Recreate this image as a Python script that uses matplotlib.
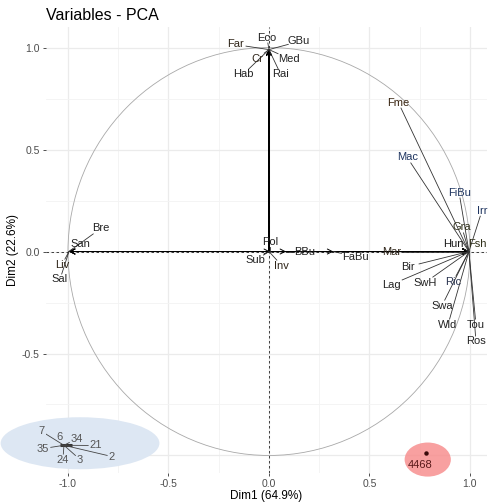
import numpy as np
import matplotlib.pyplot as plt
from matplotlib.patches import Circle, Ellipse

plt.rcParams['font.family'] = ['Liberation Sans', 'DejaVu Sans']

# variable arrows (tip coordinates) and repelled label positions
var_names = ['Far', 'Eco', 'GBu', 'Cr', 'Med', 'Hab', 'Rai',
             'Bre', 'San', 'Liv', 'Sal',
             'Fme', 'Mac', 'FiBu', 'Irr', 'Gra', 'Hun', 'Fsh', 'Mar', 'Bir',
             'Lag', 'SwH', 'Ric', 'Swa', 'Wld', 'Tou', 'Ros',
             'Pol', 'Sub', 'Inv', 'BBu', 'FaBu']
var_x = [0.0, 0.0, 0.0, 0.0, 0.0, 0.0, 0.0,
         -0.995, -0.995, -0.995, -0.995,
         0.995, 0.995, 0.995, 0.995, 0.995, 0.995, 0.995, 0.995, 0.995,
         0.995, 0.995, 0.995, 0.995, 0.995, 0.995, 0.995,
         0.005, 0.0, 0.0, 0.085, 0.32]
var_y = [0.99, 0.99, 0.99, 0.99, 0.99, 0.99, 0.99,
         0.0, 0.0, 0.0, 0.0,
         0.0, 0.0, 0.0, 0.0, 0.0, 0.0, 0.0, 0.0, 0.0,
         0.0, 0.0, 0.0, 0.0, 0.0, 0.0, 0.0,
         0.0, 0.0, 0.0, 0.0, 0.0]
lab_x = [-0.168, -0.01, 0.15, -0.06, 0.099, -0.129, 0.059,
         -0.837, -0.94, -1.03, -1.04,
         0.644, 0.688, 0.946, 1.06, 0.96, 0.916, 1.035, 0.609, 0.693,
         0.609, 0.777, 0.916, 0.861, 0.891, 1.03, 1.03,
         0.005, -0.069, 0.064, 0.178, 0.43]
lab_y = [1.015, 1.049, 1.03, 0.946, 0.946, 0.868, 0.868,
         0.113, 0.039, -0.064, -0.137,
         0.730, 0.461, 0.289, 0.20, 0.118, 0.039, 0.039, 0.0, -0.074,
         -0.162, -0.152, -0.147, -0.265, -0.358, -0.358, -0.441,
         0.049, -0.044, -0.069, 0.0, -0.025]
lab_col = ['#2e2418', '#222222', '#222222', '#2e2418', '#222222', '#222222', '#222222',
           '#222222', '#222222', '#2e2418', '#222222',
           '#3a2612', '#1f3560', '#1f3560', '#1f3560', '#30301a', '#1a1a1a', '#30301a', '#2e2418', '#222222',
           '#222222', '#222222', '#2b3550', '#222222', '#222222', '#222222', '#222222',
           '#222222', '#222222', '#2e2418', '#222222', '#222222']

# small pasted cluster inside the blue ellipse
ind_names = ['7', '6', '34', '35', '21', '24', '3', '2']
ind_lab_x = [-1.134, -1.04, -0.955, -1.124, -0.861, -1.025, -0.94, -0.782]
ind_lab_y = [-0.88, -0.907, -0.917, -0.966, -0.951, -1.02, -1.02, -1.005]
ind_center = (-1.02, -0.95)

hi_label = '4468'
hi_point = (0.78, -0.99)

fig = plt.figure(figsize=(4.88, 5.03), dpi=100)
ax = fig.add_axes([0.094, 0.06, 0.904, 0.886])
ax.set_xlim(-1.11, 1.085)
ax.set_ylim(-1.085, 1.10)

ax.set_xticks([-1.0, -0.5, 0.0, 0.5, 1.0])
ax.set_yticks([-1.0, -0.5, 0.0, 0.5, 1.0])
ax.set_xticks(np.arange(-1.0, 1.01, 0.25), minor=True)
ax.set_yticks(np.arange(-1.0, 1.01, 0.25), minor=True)
ax.grid(True, which='major', color='#ebebeb', lw=0.9)
ax.grid(True, which='minor', color='#f3f3f3', lw=0.6)
ax.set_axisbelow(True)
for s in ax.spines.values():
    s.set_visible(False)
ax.tick_params(which='major', length=2.5, width=0.6, color='#333333',
               labelsize=7.5, labelcolor='#4d4d4d', pad=2)
ax.tick_params(which='minor', length=0)
ax.set_xticklabels(['-1.0', '-0.5', '0.0', '0.5', '1.0'])
ax.set_yticklabels(['-1.0', '-0.5', '0.0', '0.5', '1.0'])

ax.set_xlabel('Dim1 (64.9%)', fontsize=8.5, labelpad=0.5)
ax.set_ylabel('Dim2 (22.6%)', fontsize=8.5, labelpad=2)
ax.set_title('Variables - PCA', loc='left', fontsize=11.5, pad=5)

# correlation circle and reference lines
ax.add_patch(Circle((0, 0), 1.0, fill=False, ec='#a8a8a8', lw=0.6, zorder=2))
ax.axhline(0, ls='--', color='#222222', lw=0.6, dashes=(3, 3), zorder=2)
ax.axvline(0, ls='--', color='#222222', lw=0.6, dashes=(3, 3), zorder=2)

for x, y in zip(var_x, var_y):
    ax.annotate('', xy=(x, y), xytext=(0, 0),
                arrowprops=dict(arrowstyle='->,head_length=0.35,head_width=0.18',
                                color='black', lw=0.7, shrinkA=0, shrinkB=0),
                zorder=3)


def trimmed_segment(lx, ly, tx, ty, name, fs_px=11.1):
    # returns start point (data) on label box edge toward the tip, or None
    p0 = ax.transData.transform((lx, ly))
    p1 = ax.transData.transform((tx, ty))
    hw = 0.5 * len(name) * 0.56 * fs_px + 1.5
    hh = 0.5 * fs_px * 0.8 + 1.0
    d = p1 - p0
    if abs(d[0]) <= hw and abs(d[1]) <= hh:
        return None
    tx_ = hw / abs(d[0]) if d[0] != 0 else np.inf
    ty_ = hh / abs(d[1]) if d[1] != 0 else np.inf
    t = min(tx_, ty_)
    start = p0 + d * t
    if np.hypot(*(p1 - start)) < 4:
        return None
    return ax.transData.inverted().transform(start)


for name, x, y, lx, ly, c in zip(var_names, var_x, var_y, lab_x, lab_y, lab_col):
    st = trimmed_segment(lx, ly, x, y, name)
    if st is not None:
        ax.plot([st[0], x], [st[1], y], color='#333333', lw=0.6, zorder=3)
    ax.text(lx, ly, name, color=c, fontsize=8, ha='center', va='center', zorder=4)

# blue highlight ellipse with pasted cluster
ax.add_patch(Ellipse((-0.94, -0.94), 0.79, 0.255, fc='#dde7f3', ec='none',
                     zorder=5, clip_on=False))
cx, cy = ind_center
ax.plot([cx - 0.02, cx + 0.04], [cy, cy], color='#333333', lw=2.2, zorder=6,
        solid_capstyle='butt')
for name, lx, ly in zip(ind_names, ind_lab_x, ind_lab_y):
    st = trimmed_segment(lx, ly, cx, cy, name)
    if st is not None:
        ax.plot([st[0], cx], [st[1], cy], color='#444444', lw=0.6, zorder=6)
    ax.text(lx, ly, name, color='#555555', fontsize=8, ha='center', va='center',
            zorder=7)

# red highlight ellipse
ax.add_patch(Ellipse((0.79, -1.02), 0.23, 0.167, fc='#f78f8f', ec='none',
                     alpha=0.85, zorder=5, clip_on=False))
ax.plot(*hi_point, 'o', ms=2.2, color='#3a0a0a', zorder=6)
ax.text(0.752, -1.047, hi_label, color='#5a1a1a', fontsize=8, ha='center',
        va='center', zorder=7)

fig.savefig('out.png', dpi=100)
